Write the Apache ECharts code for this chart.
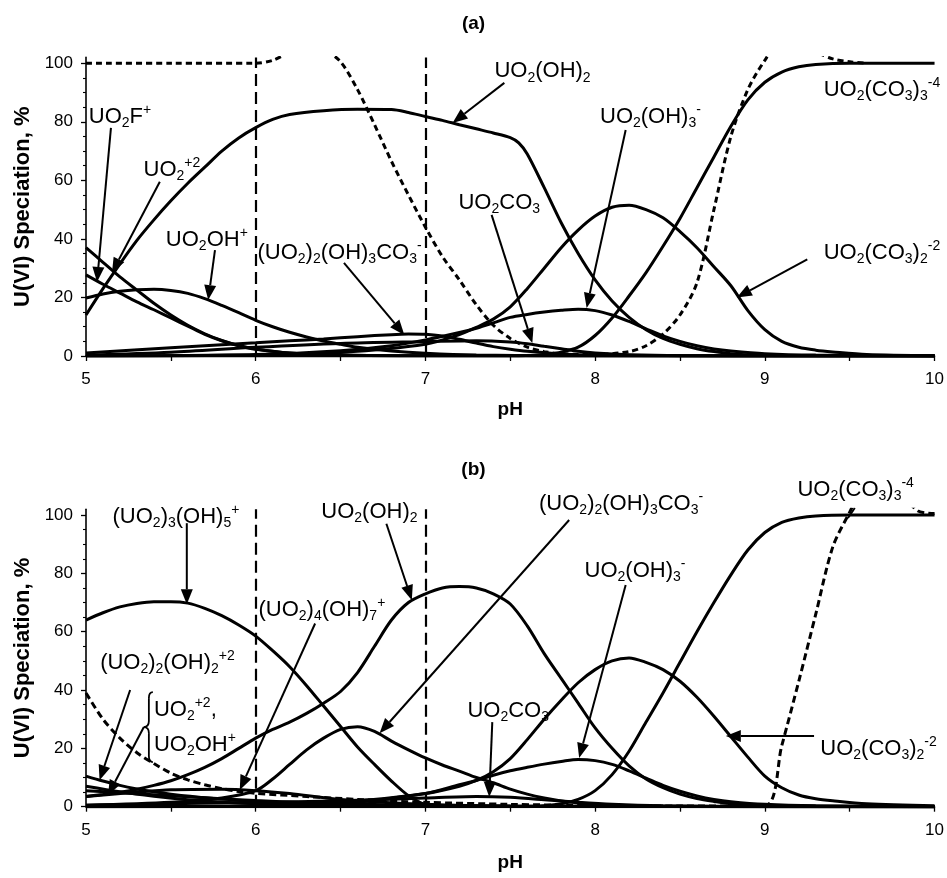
<!DOCTYPE html>
<html>
<head>
<meta charset="utf-8">
<script src="https://cdn.jsdelivr.net/npm/echarts@6/dist/echarts.min.js"></script>
<style>
  html, body { margin: 0; padding: 0; background: #fff; }
  #chart { width: 947px; height: 878px; }
</style>
</head>
<body>
<div id="chart"></div>
<script>
// U(VI) speciation (% of total uranium) versus pH, two solution conditions.
// Each species is a list of [pH, percent] points.

// ---------- panel (a) ----------
const a_UO2 = [[5.0,37],[5.1,32],[5.2,27],[5.3,22.5],[5.4,18],[5.5,14],[5.6,10.5],[5.7,7.6],[5.8,5.3],[5.9,3.6],[6.0,2.4],[6.2,1.0],[6.5,0.3],[7.0,0.05],[10,0]];
const a_UO2F = [[5.0,27.7],[5.1,24.5],[5.2,21.5],[5.3,18.5],[5.4,15.8],[5.5,13],[5.6,10.2],[5.7,7.4],[5.8,5.2],[5.9,3.5],[6.0,2.3],[6.2,1.0],[6.5,0.3],[7.0,0.05],[10,0]];
const a_UO2OH = [[5.0,19.8],[5.1,21.2],[5.2,22.1],[5.3,22.6],[5.4,22.8],[5.5,22.4],[5.6,21.4],[5.7,19.6],[5.8,17.3],[5.9,14.8],[6.0,12.2],[6.1,10],[6.2,8.1],[6.3,6.5],[6.4,5.1],[6.5,4],[6.6,3],[6.8,1.7],[7.0,0.9],[7.3,0.3],[8.0,0.05],[10,0]];
const a_UO2OH2 = [[5.0,14],[5.1,23],[5.2,31.5],[5.3,39.5],[5.4,46.5],[5.5,53],[5.6,59],[5.7,64.5],[5.8,70],[5.9,74.5],[6.0,78],[6.1,80.8],[6.2,82.5],[6.4,83.8],[6.6,84.3],[6.8,84.2],[6.9,83.2],[7.0,81.8],[7.1,80.5],[7.2,79],[7.3,77.6],[7.4,76.2],[7.5,74.6],[7.55,72.8],[7.6,69],[7.7,57.5],[7.8,45.5],[7.9,35],[8.0,26],[8.1,18.8],[8.2,13.2],[8.3,9],[8.4,6],[8.5,4],[8.6,2.5],[8.7,1.5],[8.8,0.8],[9.0,0.2],[10,0]];
const a_U2OH3CO3 = [[5.0,1],[5.5,2.8],[6.0,4.5],[6.2,5.2],[6.4,5.8],[6.6,6.6],[6.8,7.3],[6.9,7.5],[7.0,7.4],[7.1,6.8],[7.2,5.7],[7.3,4.4],[7.4,3.2],[7.5,2.3],[7.6,1.6],[7.8,0.7],[8.0,0.3],[8.5,0.05],[10,0]];
const a_UO2CO3 = [[5.0,0.3],[5.5,1.3],[6.0,3],[6.5,4.3],[7.0,4.9],[7.3,5.2],[7.5,4.8],[7.6,4.2],[7.7,3.3],[7.8,2.5],[7.9,1.6],[8.0,1.0],[8.2,0.4],[8.5,0.1],[10,0]];
const a_UO2OH3 = [[5.0,0],[6.0,0.5],[6.5,1.8],[6.8,3.5],[7.0,5.5],[7.2,8],[7.3,9.5],[7.4,11.3],[7.5,13.2],[7.6,14.2],[7.7,15],[7.8,15.6],[7.9,16],[8.0,15.5],[8.1,14],[8.2,11.8],[8.3,9.3],[8.4,6.9],[8.5,5],[8.6,3.5],[8.7,2.4],[8.8,1.7],[9.0,0.8],[9.3,0.3],[10,0]];
const a_UO2CO3_2 = [[5.0,0],[6.0,0.3],[6.5,1.2],[7.0,4],[7.2,7.3],[7.3,9.8],[7.4,12.6],[7.5,16.8],[7.6,23],[7.7,30],[7.8,37],[7.9,43],[8.0,47.8],[8.1,50.8],[8.2,51.5],[8.3,50],[8.4,47.2],[8.5,42.5],[8.6,37],[8.7,30.5],[8.8,24],[8.9,15.5],[9.0,9],[9.1,5],[9.2,3],[9.3,2],[9.4,1.4],[9.6,0.5],[10,0.1]];
const a_UO2CO3_3 = [[5.0,0],[7.5,0],[7.7,0.5],[7.8,1.3],[7.9,3],[8.0,7],[8.1,13],[8.2,20.5],[8.3,28.5],[8.4,37.5],[8.5,47],[8.6,57.5],[8.7,68],[8.8,78.5],[8.9,87.5],[9.0,93.5],[9.1,97],[9.2,98.8],[9.3,99.6],[9.5,100],[10,100]];
const a_dashed = [[5.0,100],[5.5,100],[6.0,100],[6.1,101],[6.2,104],[6.3,108],[6.4,105],[6.5,100.5],[6.6,91],[6.7,79],[6.8,66.5],[6.9,55],[7.0,44],[7.1,34],[7.2,26],[7.3,17.5],[7.4,10.5],[7.5,6],[7.6,3],[7.7,1.5],[7.8,0.8],[8.0,0.5],[8.2,1.5],[8.3,3.5],[8.4,7.5],[8.5,14],[8.6,25],[8.7,50],[8.8,75],[8.9,91],[9.0,101],[9.1,108],[9.2,108],[9.3,104],[9.4,101.5],[9.5,100.5],[9.6,100]];

// ---------- panel (b) ----------
const b_U3OH5 = [[5.0,64],[5.1,66.5],[5.2,68.5],[5.3,69.7],[5.4,70.3],[5.5,70.3],[5.6,69.8],[5.7,68],[5.8,65.5],[5.9,62.3],[6.0,58.5],[6.1,53.5],[6.2,48],[6.3,41.5],[6.4,34.5],[6.5,27.5],[6.6,20.5],[6.7,14.5],[6.8,8.8],[6.9,3.8],[7.0,0.8],[7.2,0.2],[8.0,0],[10,0]];
const b_UO2OH2 = [[5.0,3.5],[5.1,4.2],[5.2,5],[5.3,6],[5.4,7.3],[5.5,8.9],[5.6,11],[5.7,13.5],[5.8,16.5],[5.9,20],[6.0,23.5],[6.1,26.5],[6.2,29],[6.3,32],[6.4,35.5],[6.5,39.5],[6.6,46],[6.7,55],[6.8,64],[6.9,70],[7.0,73],[7.1,75],[7.2,75.5],[7.3,75],[7.4,73],[7.5,69.5],[7.6,62],[7.7,52.5],[7.8,44],[7.9,35.5],[8.0,27],[8.1,20],[8.2,14],[8.3,9.5],[8.4,6.5],[8.5,4.3],[8.6,2.8],[8.7,1.8],[8.8,1],[9.0,0.4],[10,0]];
const b_U2OH3CO3 = [[5.0,0.5],[5.5,1.5],[5.8,3],[6.0,5.5],[6.1,9.5],[6.2,14.5],[6.3,19.5],[6.4,23.5],[6.5,26.5],[6.6,27.4],[6.7,25.8],[6.8,22.5],[6.9,19.5],[7.0,16.7],[7.1,14.3],[7.2,12.2],[7.3,10],[7.4,8.2],[7.5,6],[7.6,4.3],[7.7,3],[7.8,2],[7.9,1.3],[8.0,0.8],[8.3,0.2],[10,0]];
const b_U4OH7 = [[5.0,3.5],[5.3,5],[5.5,5.8],[5.8,6],[6.0,5.5],[6.2,4.5],[6.5,2.5],[7.0,0.8],[7.5,0.2],[10,0]];
const b_U2OH2 = [[5.0,10.5],[5.1,8.8],[5.2,7.3],[5.3,6.1],[5.4,5.1],[5.5,4.3],[5.7,3.1],[6.0,1.9],[6.3,1.1],[6.6,0.6],[7.0,0.2],[10,0]];
const b_UO2 = [[5.0,7],[5.2,5.1],[5.4,3.6],[5.6,2.4],[5.8,1.6],[6.0,1],[6.5,0.3],[7.0,0.1],[10,0]];
const b_UO2OH = [[5.0,5.5],[5.2,4.8],[5.4,4.1],[5.6,3.4],[5.8,2.7],[6.0,2.1],[6.3,1.4],[6.6,0.9],[7.0,0.4],[7.5,0.1],[10,0]];
const b_UO2CO3 = [[5.0,0.5],[5.5,1],[6.0,1.5],[6.5,2],[7.0,3],[7.3,3.5],[7.5,3.2],[7.7,2.4],[7.9,1.5],[8.1,0.8],[8.4,0.3],[9.0,0],[10,0]];
const b_UO2OH3 = [[5.0,0],[6.0,0.3],[6.5,1.5],[7.0,4.5],[7.2,7.5],[7.3,9],[7.4,10.8],[7.5,12.3],[7.6,13.5],[7.7,14.6],[7.8,15.5],[7.9,16.2],[8.0,15.8],[8.1,14.5],[8.2,12.3],[8.3,9.8],[8.4,7.3],[8.5,5.3],[8.6,3.7],[8.7,2.5],[8.8,1.7],[9.0,0.8],[9.3,0.3],[10,0]];
const b_UO2CO3_2 = [[5.0,0],[6.0,0.2],[6.5,1],[7.0,4.5],[7.2,7],[7.3,9],[7.4,12],[7.5,16.5],[7.6,23],[7.7,30],[7.8,36.5],[7.9,42.5],[8.0,47],[8.1,50],[8.2,51],[8.3,49.5],[8.4,47],[8.5,43],[8.6,37.5],[8.7,31],[8.8,24],[8.9,17],[9.0,10.5],[9.1,6.5],[9.2,4],[9.3,2.7],[9.4,2],[9.6,1],[10,0.3]];
const b_UO2CO3_3 = [[5.0,0],[7.6,0],[7.7,0.3],[7.8,1],[7.9,2.5],[8.0,5.5],[8.1,11],[8.2,19],[8.3,29],[8.4,39],[8.5,49.5],[8.6,60],[8.7,70],[8.8,79.5],[8.9,88],[9.0,94],[9.1,97.5],[9.2,99],[9.3,99.7],[9.5,100],[10,100]];
const b_dashed = [[5.0,39],[5.1,30],[5.2,23.5],[5.3,18.5],[5.4,14.8],[5.5,11.5],[5.6,9.2],[5.7,7.5],[5.8,6.2],[5.9,5.2],[6.0,4.6],[6.3,3.5],[6.6,2.5],[7.0,1.5],[7.5,0.8],[8.0,0.4],[8.5,0.2],[9.0,0.3],[9.1,21],[9.2,43],[9.3,66],[9.4,89],[9.5,101],[9.6,112],[9.7,115],[9.8,108],[9.9,101.5],[10,100.5]];

// axis ticks
const yMajor = [0, 20, 40, 60, 80, 100];
const yMinor = [5, 10, 15, 25, 30, 35, 45, 50, 55, 65, 70, 75, 85, 90, 95];
const pHRange = [5, 10];
const referencePH = [6, 7];

const FONT = '"Liberation Sans", Arial, Helvetica, sans-serif';
const LINE_W = 3;

const chart = echarts.init(document.getElementById('chart'), null, { renderer: 'canvas' });

function curve(data, g, dashed) {
  return {
    type: 'line', xAxisIndex: g, yAxisIndex: g * 2, data: data,
    showSymbol: false, symbol: 'none', smooth: 0.3, clip: true, silent: true,
    animation: false,
    lineStyle: { color: '#000', width: LINE_W, type: dashed ? dashed : 'solid' }
  };
}

function refLines(g) {
  return {
    type: 'line', xAxisIndex: g, yAxisIndex: g * 2, data: [], silent: true, animation: false,
    markLine: {
      silent: true, symbol: 'none', animation: false,
      label: { show: false },
      lineStyle: { color: '#000', width: 2.2, type: [12, 6] },
      data: referencePH.map(v => ({ xAxis: v }))
    }
  };
}

function xAxis(g, gap) {
  return {
    type: 'value', gridIndex: g, min: pHRange[0], max: pHRange[1], interval: 0.5,
    axisLine: { lineStyle: { color: '#000', width: 1.6 } },
    axisTick: { length: 5, lineStyle: { color: '#000', width: 1.3 } },
    axisLabel: {
      margin: 15, color: '#000', fontSize: 17, fontFamily: FONT,
      formatter: v => (Math.abs(v - Math.round(v)) < 1e-9 ? String(Math.round(v)) : '')
    },
    splitLine: { show: false },
    name: 'pH', nameLocation: 'middle', nameGap: gap,
    nameTextStyle: { fontSize: 19, fontWeight: 'bold', color: '#000', fontFamily: FONT }
  };
}

function yAxisMain(g) {
  return {
    type: 'value', gridIndex: g, min: 0, max: 102, position: 'left',
    axisLine: { show: true, lineStyle: { color: '#000', width: 1.6 } },
    axisTick: { show: true, length: 5, customValues: yMajor, lineStyle: { color: '#000', width: 1.3 } },
    axisLabel: { customValues: yMajor, margin: 13, color: '#000', fontSize: 17, fontFamily: FONT },
    splitLine: { show: false },
    name: 'U(VI) Speciation, %', nameLocation: 'middle', nameGap: 52, nameRotate: 90,
    nameTextStyle: { fontSize: 22, fontWeight: 'bold', color: '#000', fontFamily: FONT }
  };
}

function yAxisMinor(g) {
  return {
    type: 'value', gridIndex: g, min: 0, max: 102, position: 'left',
    axisLine: { show: false },
    axisTick: { show: true, length: 3, customValues: yMinor, lineStyle: { color: '#000', width: 1.1 } },
    axisLabel: { show: false },
    splitLine: { show: false }
  };
}

const option = {
  backgroundColor: '#fff',
  animation: false,
  title: [
    { text: '(a)', left: 'center', top: 14, padding: 0, textStyle: { fontSize: 19, fontWeight: 'bold', color: '#000', fontFamily: FONT } },
    { text: '(b)', left: 'center', top: 460, padding: 0, textStyle: { fontSize: 19, fontWeight: 'bold', color: '#000', fontFamily: FONT } }
  ],
  grid: [
    { left: 86, top: 57.4, width: 850, height: 298.6 },
    { left: 86, top: 509.2, width: 850, height: 297.5 }
  ],
  xAxis: [xAxis(0, 44), xAxis(1, 47)],
  yAxis: [yAxisMain(0), yAxisMinor(0), yAxisMain(1), yAxisMinor(1)],
  series: [
    refLines(0),
    curve(a_UO2, 0), curve(a_UO2F, 0), curve(a_UO2OH, 0), curve(a_UO2OH2, 0),
    curve(a_U2OH3CO3, 0), curve(a_UO2CO3, 0), curve(a_UO2OH3, 0),
    curve(a_UO2CO3_2, 0), curve(a_UO2CO3_3, 0), curve(a_dashed, 0, [6, 4]),
    refLines(1),
    curve(b_U3OH5, 1), curve(b_UO2OH2, 1), curve(b_U2OH3CO3, 1), curve(b_U4OH7, 1),
    curve(b_U2OH2, 1), curve(b_UO2, 1), curve(b_UO2OH, 1), curve(b_UO2CO3, 1),
    curve(b_UO2OH3, 1), curve(b_UO2CO3_2, 1), curve(b_UO2CO3_3, 1), curve(b_dashed, 1, [7, 4])
  ]
};
chart.setOption(option);

// ---------- species labels and pointer arrows (positions in pH / % units) ----------
const RICH = {
  s: { fontSize: 14, fontFamily: FONT, fill: '#000', verticalAlign: 'bottom' },
  p: { fontSize: 14, fontFamily: FONT, fill: '#000', verticalAlign: 'top' }
};

const labelsA = [
  { t: 'UO{s|2}F{p|+}', at: [5.2, 81.7] },
  { t: 'UO{s|2}{p|+2}', at: [5.506, 63.5] },
  { t: 'UO{s|2}OH{p|+}', at: [5.712, 39.6] },
  { t: '(UO{s|2}){s|2}(OH){s|3}CO{s|3}{p|-}', at: [6.494, 35.2] },
  { t: 'UO{s|2}(OH){s|2}', at: [7.69, 97.3] },
  { t: 'UO{s|2}(OH){s|3}{p|-}', at: [8.326, 81.7] },
  { t: 'UO{s|2}CO{s|3}', at: [7.435, 52.3] },
  { t: 'UO{s|2}(CO{s|3}){s|2}{p|-2}', at: [9.69, 35.2] },
  { t: 'UO{s|2}(CO{s|3}){s|3}{p|-4}', at: [9.69, 90.9] }
];
const arrowsA = [
  [[5.147, 77.9], [5.065, 25.3]],
  [[5.435, 59.5], [5.153, 28.4]],
  [[5.76, 36.2], [5.72, 19.1]],
  [[6.52, 31.8], [6.876, 7.2]],
  [[7.465, 93.3], [7.16, 79.6]],
  [[8.18, 77.2], [7.95, 16.4]],
  [[7.39, 48.2], [7.63, 4.4]],
  [[9.25, 33], [8.835, 20]]
];
const labelsB = [
  { t: '(UO{s|2}){s|3}(OH){s|5}{p|+}', at: [5.53, 99.3] },
  { t: 'UO{s|2}(OH){s|2}', at: [6.67, 101] },
  { t: '(UO{s|2}){s|4}(OH){s|7}{p|+}', at: [6.39, 67.4] },
  { t: '(UO{s|2}){s|2}(OH){s|2}{p|+2}', at: [5.48, 49.3] },
  { t: 'UO{s|2}{p|+2},', at: [5.4, 33.2], left: true },
  { t: 'UO{s|2}OH{p|+}', at: [5.4, 21.2], left: true },
  { t: '(UO{s|2}){s|2}(OH){s|3}CO{s|3}{p|-}', at: [8.153, 103.8] },
  { t: 'UO{s|2}(OH){s|3}{p|-}', at: [8.235, 80.8] },
  { t: 'UO{s|2}CO{s|3}', at: [7.488, 32.8] },
  { t: 'UO{s|2}(CO{s|3}){s|2}{p|-2}', at: [9.67, 19.8] },
  { t: 'UO{s|2}(CO{s|3}){s|3}{p|-4}', at: [9.535, 108.6] }
];
const arrowsB = [
  [[5.594, 97.2], [5.594, 69.4]],
  [[6.77, 97], [6.92, 70.8]],
  [[6.35, 62.8], [5.906, 5.7]],
  [[5.26, 40], [5.08, 9.1]],
  [[5.341, 27.3], [5.13, 4]],
  [[7.847, 98.3], [6.73, 25.2]],
  [[8.18, 76], [7.906, 16.7]],
  [[7.394, 29], [7.376, 3.3]],
  [[9.29, 24.2], [8.77, 24.2]]
];
const ticksB = [[[9.53, 102.4], [9.49, 99]]];

function toPx(g, pt) { return chart.convertToPixel({ gridIndex: g }, pt); }

const graphics = [];

function addLabel(g, item) {
  const p = toPx(g, item.at);
  graphics.push({
    type: 'text', x: p[0], y: p[1], silent: true, z: 100,
    style: {
      text: item.t, rich: RICH, fontSize: 22, fontFamily: FONT, fill: '#000', lineHeight: 27,
      align: item.left ? 'left' : 'center', verticalAlign: 'middle'
    }
  });
}

function addArrow(g, seg, head) {
  const a = toPx(g, seg[0]);
  const b = toPx(g, seg[1]);
  const dx = b[0] - a[0], dy = b[1] - a[1];
  const len = Math.sqrt(dx * dx + dy * dy);
  const ux = dx / len, uy = dy / len;
  const hl = head ? 15 : 0, hw = 6;
  const bx = b[0] - ux * hl, by = b[1] - uy * hl;
  graphics.push({
    type: 'line', silent: true, z: 100,
    shape: { x1: a[0], y1: a[1], x2: bx, y2: by },
    style: { stroke: '#000', lineWidth: 2 }
  });
  if (head) {
    graphics.push({
      type: 'polygon', silent: true, z: 100,
      shape: { points: [[b[0], b[1]], [bx - uy * hw, by + ux * hw], [bx + uy * hw, by - ux * hw]] },
      style: { fill: '#000' }
    });
  }
}

labelsA.forEach(l => addLabel(0, l));
arrowsA.forEach(s => addArrow(0, s, true));
labelsB.forEach(l => addLabel(1, l));
arrowsB.forEach(s => addArrow(1, s, true));
ticksB.forEach(s => addArrow(1, s, false));

// curly brace grouping the UO2+2 and UO2OH+ labels in panel (b)
(function brace() {
  const top = toPx(1, [5.394, 39.3]);
  const mid = toPx(1, [5.341, 27.3]);
  const bot = toPx(1, [5.394, 15.3]);
  const xr = top[0], xl = mid[0], xm = (xr + xl) / 2 + 0.5;
  const yt = top[1], ym = mid[1], yb = bot[1];
  const st = { stroke: '#000', lineWidth: 1.8, fill: null };
  const q = (x1, y1, cx, cy, x2, y2) => graphics.push({
    type: 'bezierCurve', silent: true, z: 100,
    shape: { x1: x1, y1: y1, cpx1: cx, cpy1: cy, x2: x2, y2: y2 }, style: st
  });
  const l = (x1, y1, x2, y2) => graphics.push({
    type: 'line', silent: true, z: 100, shape: { x1: x1, y1: y1, x2: x2, y2: y2 }, style: st
  });
  q(xr, yt, xm, yt, xm, yt + 6);
  l(xm, yt + 6, xm, ym - 6);
  q(xm, ym - 6, xm, ym, xl, ym);
  q(xl, ym, xm, ym, xm, ym + 6);
  l(xm, ym + 6, xm, yb - 6);
  q(xm, yb - 6, xm, yb, xr, yb);
})();

chart.setOption({ graphic: graphics });
</script>
</body>
</html>
